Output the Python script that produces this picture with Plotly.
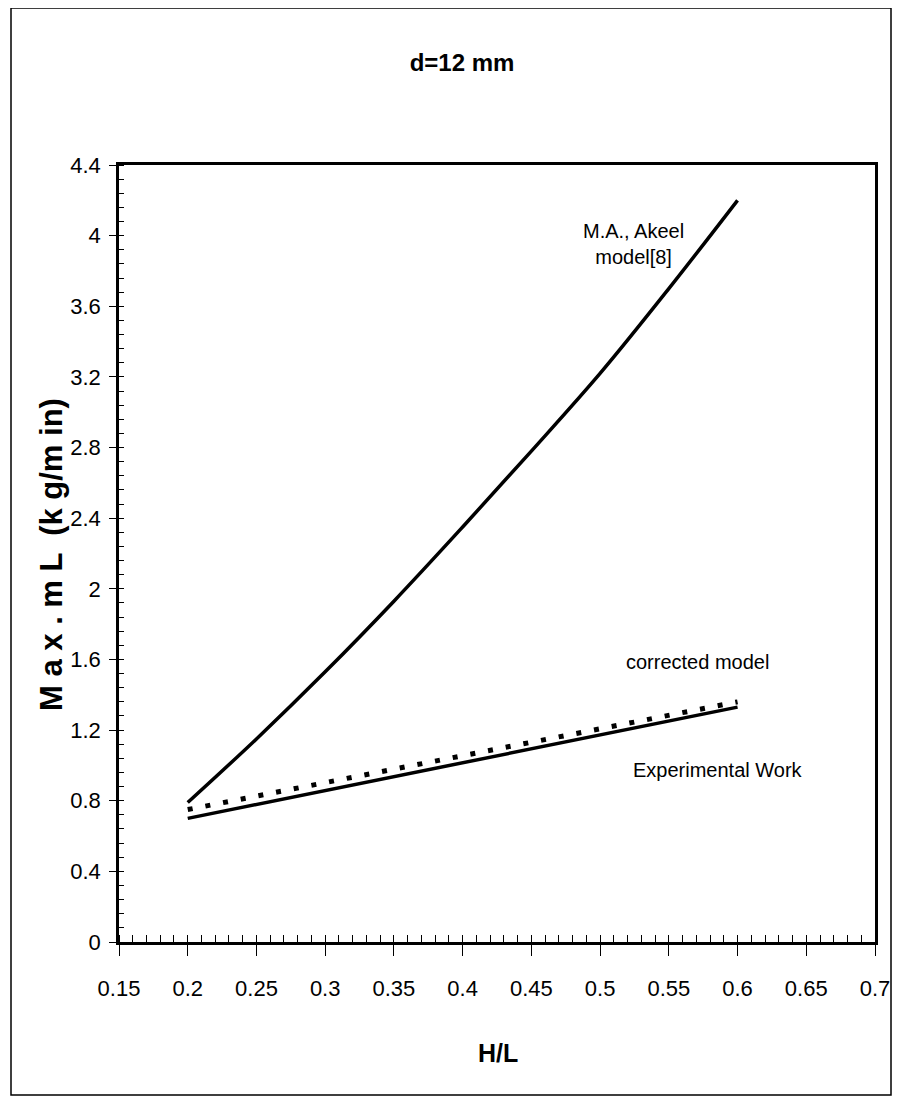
import plotly.graph_objects as go

hl = [0.2, 0.25, 0.3, 0.35, 0.4, 0.45, 0.5, 0.55, 0.6]
akeel = [0.79, 1.15, 1.53, 1.93, 2.35, 2.78, 3.22, 3.70, 4.20]
hl_lin = [0.2, 0.4, 0.6]
corrected = [0.75, 1.055, 1.36]
experimental = [0.70, 1.015, 1.33]

FONT = "Liberation Sans Narrow, Arial Narrow, Liberation Sans, Arial, sans-serif"

# page body has an 8px margin: plot area target in page pixels is x 119..875, y 165..942
OFF = 8
W, H = 901 - 2 * OFF, 1105 - 2 * OFF
L, T = 119 - OFF, 165 - OFF
R = W - (875 - OFF)
B = H - (942 - OFF)
PW = W - L - R
PH = H - T - B
X_LEFT, Y_BOTTOM = 119, 942  # page coords of plot-area corner


def px(xp):
    return (xp - X_LEFT) / PW


def py(yp):
    return (Y_BOTTOM - yp) / PH


fig = go.Figure()
fig.add_trace(go.Scatter(x=hl, y=akeel, mode="lines", line=dict(color="black", width=3.5),
                         line_shape="spline", name="M.A., Akeel model[8]"))
fig.add_trace(go.Scatter(x=hl_lin, y=corrected, mode="lines", line=dict(color="black", width=5, dash="5px,13px"),
                         name="corrected model"))
fig.add_trace(go.Scatter(x=hl_lin, y=experimental, mode="lines", line=dict(color="black", width=3.5),
                         name="Experimental Work"))

ann_font = dict(family=FONT, size=20, color="black")
fig.add_annotation(x=0.524, y=3.95, text="M.A., Akeel<br>model[8]", showarrow=False, font=ann_font,
                   align="center", xanchor="center", yanchor="middle")
fig.add_annotation(x=0.5705, y=1.585, text="corrected model", showarrow=False, font=ann_font,
                   xanchor="center", yanchor="middle")
fig.add_annotation(x=0.5858, y=0.974, text="Experimental Work", showarrow=False, font=ann_font,
                   xanchor="center", yanchor="middle")

# axis titles
fig.add_annotation(xref="paper", yref="paper", x=px(51), y=py(555), textangle=-90,
                   text="<b>M a x . m L  (k g/m in)</b>", showarrow=False,
                   font=dict(family=FONT, size=31, color="black"), xanchor="center", yanchor="middle")
fig.add_annotation(xref="paper", yref="paper", x=px(498), y=py(1053),
                   text="<b>H/L</b>", showarrow=False,
                   font=dict(family=FONT, size=25, color="black"), xanchor="center", yanchor="middle")

# outer frame
fig.add_shape(type="rect", xref="paper", yref="paper",
              x0=px(11), x1=px(891),
              y0=py(1095), y1=py(8),
              line=dict(color="black", width=1.5), fillcolor="rgba(0,0,0,0)")

fig.update_layout(
    width=W, height=H,
    margin=dict(l=L, r=R, t=T, b=B, autoexpand=False),
    paper_bgcolor="white", plot_bgcolor="white",
    showlegend=False,
    font=dict(family=FONT, color="black"),
    title=dict(text="<b>d=12 mm</b>", x=(462 - OFF) / W, xanchor="center", y=1 - (63 - OFF) / H, yanchor="middle",
               font=dict(family=FONT, size=24, color="black")),
    xaxis=dict(range=[0.15, 0.7], tick0=0.15, dtick=0.05, showgrid=False, zeroline=False,
               automargin=False, ticklabeloverflow="allow",
               showline=True, linecolor="black", linewidth=2.5, mirror=True,
               ticks="outside", ticklen=11, tickwidth=1, tickcolor="black",
               minor=dict(ticks="inside", ticklen=7, tickwidth=1, tickcolor="black", dtick=0.01, showgrid=False),
               tickfont=dict(family=FONT, size=22, color="black"), ticklabelstandoff=14),
    yaxis=dict(range=[0, 4.4], tick0=0, dtick=0.4, showgrid=False, zeroline=False,
               automargin=False, ticklabeloverflow="allow",
               showline=True, linecolor="black", linewidth=2.5, mirror=True,
               ticks="outside", ticklen=7, tickwidth=1, tickcolor="black",
               minor=dict(ticks="inside", ticklen=5, tickwidth=1, tickcolor="black", dtick=0.08, showgrid=False),
               tickfont=dict(family=FONT, size=22, color="black"), ticklabelstandoff=4),
)

fig.write_html("out.html")
